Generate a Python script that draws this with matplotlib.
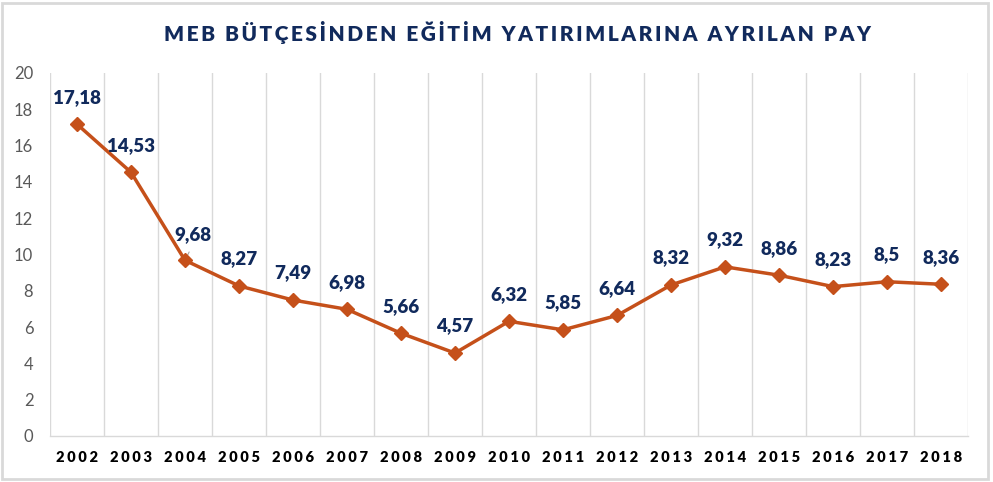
import matplotlib
matplotlib.use("Agg")
import matplotlib.pyplot as plt
from matplotlib.patches import Rectangle

years = ["2002", "2003", "2004", "2005", "2006", "2007", "2008", "2009", "2010",
         "2011", "2012", "2013", "2014", "2015", "2016", "2017", "2018"]
values = [17.18, 14.53, 9.68, 8.27, 7.49, 6.98, 5.66, 4.57, 6.32,
          5.85, 6.64, 8.32, 9.32, 8.86, 8.23, 8.5, 8.36]
labels = ["17,18", "14,53", "9,68", "8,27", "7,49", "6,98", "5,66", "4,57", "6,32",
          "5,85", "6,64", "8,32", "9,32", "8,86", "8,23", "8,5", "8,36"]
title = "MEB BÜTÇESİNDEN EĞİTİM YATIRIMLARINA AYRILAN PAY"
yticks = [0, 2, 4, 6, 8, 10, 12, 14, 16, 18, 20]

FAM = ["Lato", "DejaVu Sans"]
NAVY = "#112A5C"
ORANGE = "#C5501A"
GRID = "#D9D9D9"

def spaced(s, sp="\u200a"):
    return sp.join(list(s))

fig = plt.figure(figsize=(9.93, 4.82), dpi=100)
ax = fig.add_axes([50/993, 1-436/482, (968-50)/993, (436-73)/482])

x = list(range(len(years)))
ax.plot(x, values, color=ORANGE, lw=2.5, marker="D", markersize=7,
        markerfacecolor=ORANGE, markeredgecolor=ORANGE, zorder=3)

# label placement (one label was moved aside in the original, with a leader line)
moved = {"2004": (5.5, 18.5)}
for xi, yr, v, lab in zip(x, years, values, labels):
    off = moved.get(yr, (0, 19.5))
    ax.annotate(lab, (xi, v), xytext=off, textcoords="offset points",
                ha="center", va="center", fontsize=13.5, fontweight="heavy",
                color=NAVY, family=FAM, zorder=4)
    if yr in moved:
        ax.annotate("", (xi, v), xytext=(3.0, 6.0), textcoords="offset points",
                    xycoords="data", zorder=2,
                    arrowprops=dict(arrowstyle="-", color="#A6A6A6", lw=0.8,
                                    shrinkA=0, shrinkB=0))

ax.set_xlim(-0.5, len(years) - 0.5)
ax.set_ylim(0, 20)
ax.set_yticks(yticks)
ax.set_yticklabels([str(t) for t in yticks], family=FAM, fontsize=12, color="#595959")
ax.set_xticks(x)
ax.set_xticklabels([spaced(y, "\u2009\u200a") for y in years], family=FAM, fontsize=10.5,
                   fontweight="heavy", color="black")
ax.set_xticks([i - 0.5 for i in range(len(years) + 1)], minor=True)
ax.tick_params(axis="both", which="both", length=0)
ax.tick_params(axis="y", pad=12)
ax.tick_params(axis="x", pad=11)
ax.grid(True, axis="x", which="minor", color=GRID, lw=1)
ax.grid(False, axis="x", which="major")
for s in ["top", "right", "left"]:
    ax.spines[s].set_visible(False)
ax.spines["bottom"].set_color(GRID)
ax.spines["bottom"].set_linewidth(1)

fig.text(517/993, 1-32/482, spaced(title, "\u200a\u200a"), ha="center", va="center",
         fontsize=15, fontweight="heavy", color=NAVY, family=FAM)

fig.patches.append(Rectangle((2/993, 1-479/482), (988-2)/993, (479-3)/482,
                             transform=fig.transFigure, fill=False,
                             edgecolor=GRID, lw=2))

fig.savefig("out.png", dpi=100)
